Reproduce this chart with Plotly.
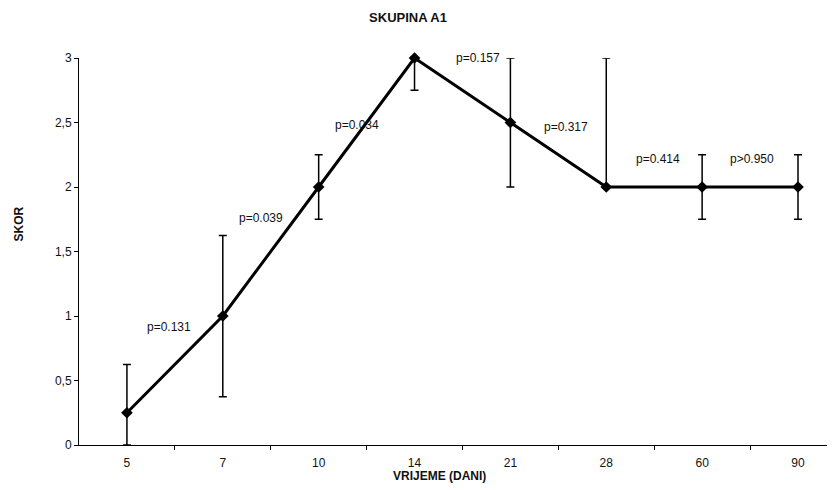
import plotly.graph_objects as go

days = ["5", "7", "10", "14", "21", "28", "60", "90"]
skor = [0.25, 1, 2, 3, 2.5, 2, 2, 2]
err_plus = [0.375, 0.625, 0.25, 0, 0.5, 1, 0.25, 0.25]
err_minus = [0.25, 0.625, 0.25, 0.25, 0.5, 0, 0.25, 0.25]

p_labels = ["p=0.131", "p=0.039", "p=0.034", "p=0.157", "p=0.317", "p=0.414", "p>0.950"]
p_x = [0.44, 1.40, 2.40, 3.66, 4.58, 5.54, 6.52]
p_y = [0.917, 1.76, 2.48, 3.0, 2.465, 2.22, 2.22]

FONT = "Liberation Sans, Arial, sans-serif"
TXT = "#111"

fig = go.Figure()
fig.add_trace(go.Scatter(
    x=list(range(len(days))), y=skor,
    mode="lines+markers",
    line=dict(color="black", width=3),
    marker=dict(symbol="diamond", size=9, color="black"),
    error_y=dict(type="data", symmetric=False, array=err_plus, arrayminus=err_minus,
                 color="black", thickness=1.5, width=4),
    cliponaxis=False,
    showlegend=False,
))

for t, xx, yy in zip(p_labels, p_x, p_y):
    fig.add_annotation(x=xx, y=yy, text=t, showarrow=False,
                       font=dict(family=FONT, size=12, color=TXT))

# axis titles placed as annotations (paper coordinates)
fig.add_annotation(xref="paper", yref="paper", x=0.4775, y=-0.080, text="<b>VRIJEME (DANI)</b>",
                   showarrow=False, xanchor="center", yanchor="middle",
                   font=dict(family=FONT, size=12, color=TXT))
fig.add_annotation(xref="paper", yref="paper", x=-0.0787, y=0.571, text="<b>SKOR</b>",
                   showarrow=False, xanchor="center", yanchor="middle", textangle=-90,
                   font=dict(family=FONT, size=12, color=TXT))

# page body has an 8px margin: compensate so the plot lands where the reference has it
fig.update_layout(
    width=835, height=490,
    margin=dict(l=71, r=8, t=50, b=53),
    paper_bgcolor="white", plot_bgcolor="white",
    separators=", ",
    font=dict(family=FONT, size=12, color=TXT),
    title=dict(text="<b>SKUPINA A1</b>", xref="container", x=400/835, xanchor="center",
               yref="container", y=1 - 9/490, yanchor="middle",
               font=dict(family=FONT, size=13, color=TXT)),
)
fig.update_xaxes(
    range=[-0.5, 7.386],
    tickmode="array", tickvals=list(range(len(days))), ticktext=days,
    showgrid=False, zeroline=False,
    showline=True, linecolor="black", linewidth=1,
    ticks="", ticklabelstandoff=7,
    tickfont=dict(family=FONT, size=12, color=TXT),
)
fig.update_xaxes(minor=dict(tickmode="array", tickvals=[i + 0.5 for i in range(len(days))],
                            ticks="outside", ticklen=4, tickcolor="black", tickwidth=1, showgrid=False))
fig.update_yaxes(
    range=[0, 3], dtick=0.5, tick0=0,
    showgrid=False, zeroline=False,
    showline=True, linecolor="black", linewidth=1,
    ticks="outside", ticklen=4, tickcolor="black",
    tickfont=dict(family=FONT, size=12, color=TXT),
)

fig.write_html("out.html")
